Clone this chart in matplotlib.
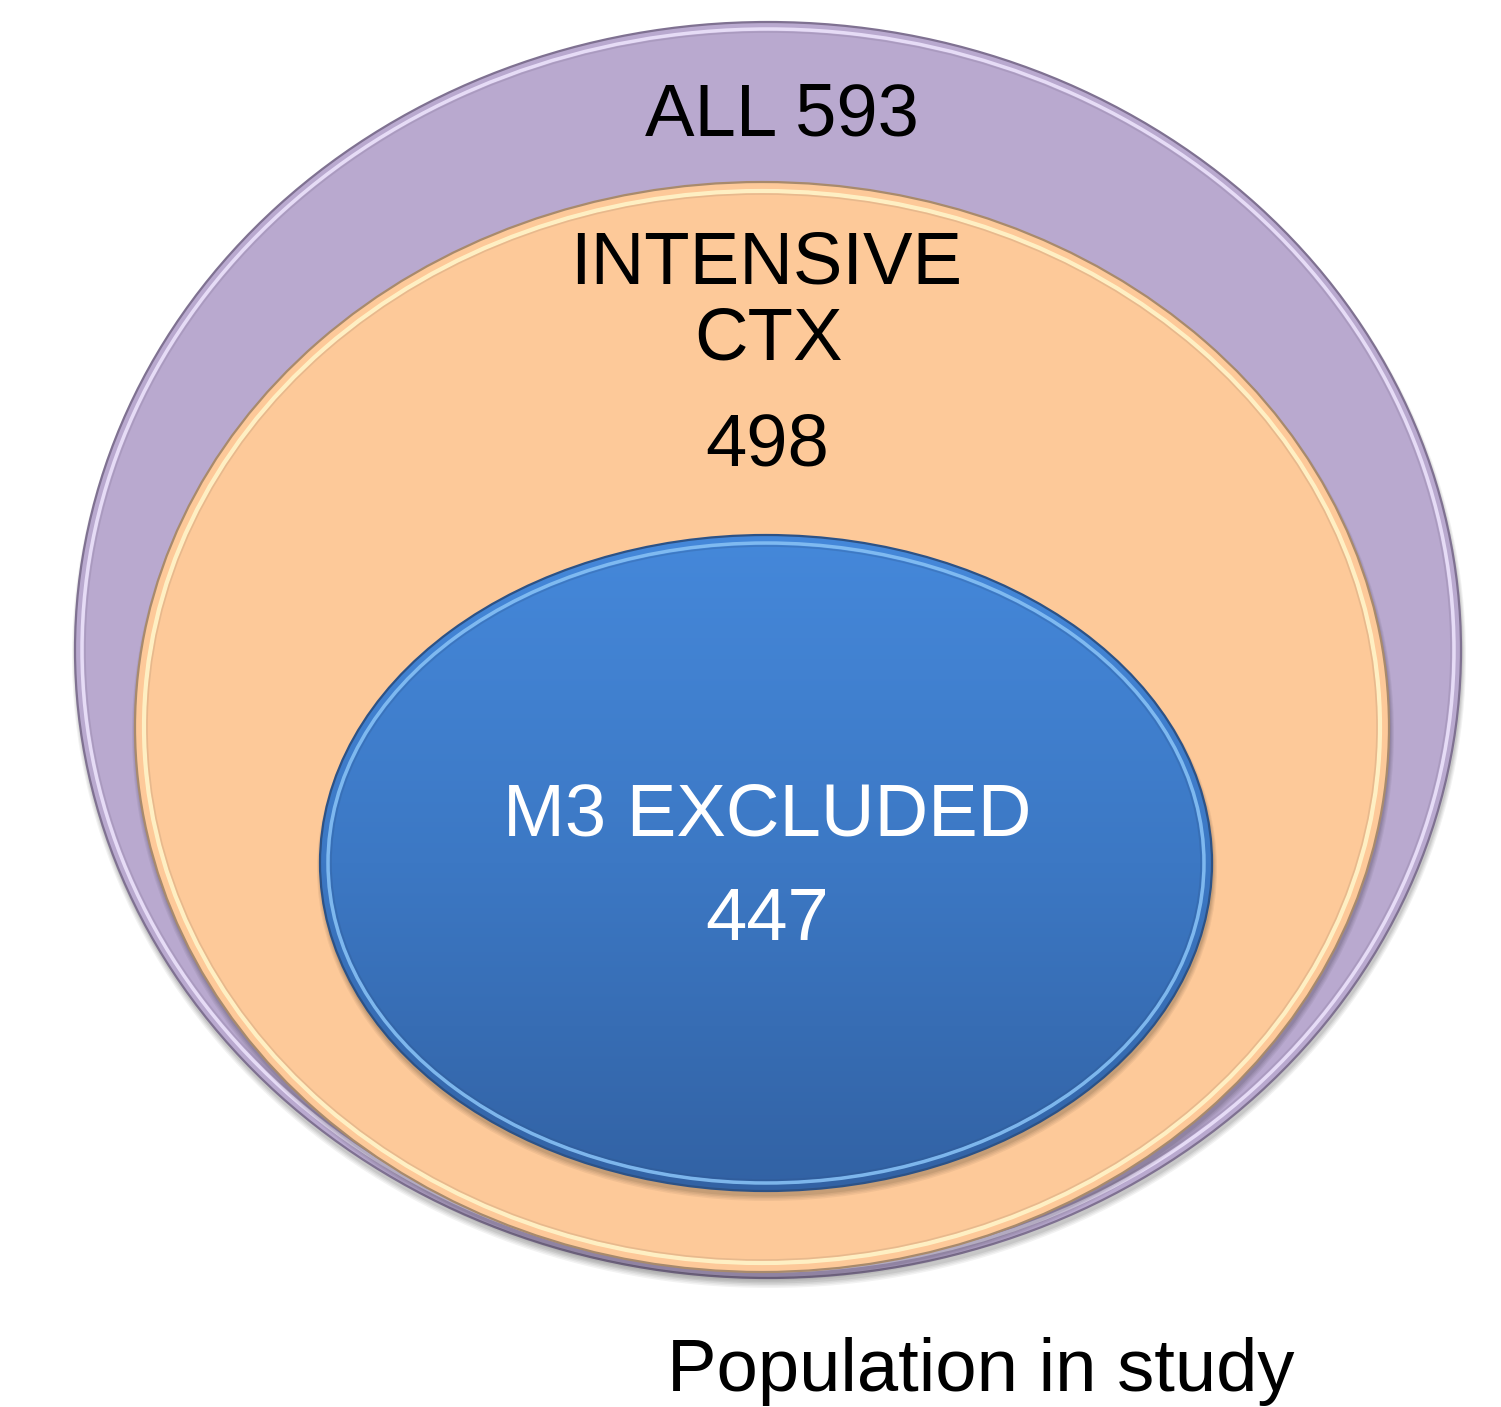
import numpy as np
import matplotlib
matplotlib.use("Agg")
import matplotlib.pyplot as plt
from matplotlib.patches import Ellipse
from matplotlib.colors import LinearSegmentedColormap

plt.rcParams['font.family'] = ['Liberation Sans', 'DejaVu Sans']

# Nested populations, outermost first
group_labels = ["ALL", "INTENSIVE\nCTX", "M3 EXCLUDED"]
group_counts = [593, 498, 447]
caption = "Population in study"

W, H = 1501, 1407
fig = plt.figure(figsize=(W / 100, H / 100), dpi=100)
ax = fig.add_axes([0, 0, 1, 1])
ax.set_xlim(0, W)
ax.set_ylim(H, 0)
ax.set_aspect('equal')
ax.axis('off')


def shadow(cx, cy, rx, ry, z):
    for i, a in enumerate([0.05, 0.05, 0.06, 0.07]):
        d = 4 - i
        ax.add_patch(Ellipse((cx + 1, cy + 4 + d * 0.5), 2 * rx + 2 * d, 2 * ry + 2 * d,
                             facecolor='black', edgecolor='none', alpha=a, zorder=z))


def bevel(cx, cy, rx, ry, edge, light, z, inset=7, lw_light=2.5):
    ax.add_patch(Ellipse((cx, cy), 2 * rx, 2 * ry, facecolor='none',
                         edgecolor=edge, lw=1.6, zorder=z))
    ax.add_patch(Ellipse((cx, cy), 2 * (rx - inset), 2 * (ry - inset), facecolor='none',
                         edgecolor=light, lw=lw_light, alpha=0.9, zorder=z))
    ax.add_patch(Ellipse((cx, cy), 2 * (rx - inset - 3), 2 * (ry - inset - 3), facecolor='none',
                         edgecolor=edge, lw=1.2, alpha=0.25, zorder=z))


# Outer ellipse: whole cohort
ocx, ocy, orx, ory = 768, 650, 693, 628
shadow(ocx, ocy, orx, ory, 1)
ax.add_patch(Ellipse((ocx, ocy), 2 * orx, 2 * ory, facecolor='#b9a9cf', edgecolor='none', zorder=2))
bevel(ocx, ocy, orx, ory, '#7f7191', '#ece2fb', 3)

# Middle ellipse: intensive chemotherapy
mcx, mcy, mrx, mry = 762, 727, 627, 545
shadow(mcx, mcy, mrx, mry, 4)
ax.add_patch(Ellipse((mcx, mcy), 2 * mrx, 2 * mry, facecolor='#fdc999', edgecolor='none', zorder=5))
bevel(mcx, mcy, mrx, mry, '#a88a6c', '#fff4c8', 6, inset=9, lw_light=3)

# Inner ellipse: M3 excluded, with vertical gradient fill
icx, icy, irx, iry = 766, 863, 446, 328
shadow(icx, icy, irx, iry, 7)
clip = Ellipse((icx, icy), 2 * irx, 2 * iry, facecolor='none', edgecolor='none', zorder=8)
ax.add_patch(clip)
grad_cmap = LinearSegmentedColormap.from_list('blue', ['#4588da', '#3c78c4', '#3262a4'])
grad = np.linspace(0, 1, 256).reshape(-1, 1)
img = ax.imshow(grad, cmap=grad_cmap, extent=(icx - irx, icx + irx, icy + iry, icy - iry),
                aspect='auto', zorder=8, interpolation='bilinear')
img.set_clip_path(clip)
bevel(icx, icy, irx, iry, '#2c5286', '#86c0f4', 9, inset=8, lw_light=2.5)

ax.set_xlim(0, W)
ax.set_ylim(H, 0)

fs = 53.5
txt = dict(ha='center', va='baseline', fontsize=fs, zorder=20)
ax.text(782, 135, f"{group_labels[0]} {group_counts[0]}", color='black', **txt)
line1, line2 = group_labels[1].split("\n")
ax.text(766, 283, line1, color='black', **txt)
ax.text(768, 359, line2, color='black', **txt)
ax.text(767, 466, f"{group_counts[1]}", color='black', **txt)
ax.text(767, 835, group_labels[2], color='white', **txt)
ax.text(767, 940, f"{group_counts[2]}", color='white', **txt)
ax.text(981, 1391, caption, color='black', **txt)

fig.savefig("out.png", dpi=100, facecolor='white')
